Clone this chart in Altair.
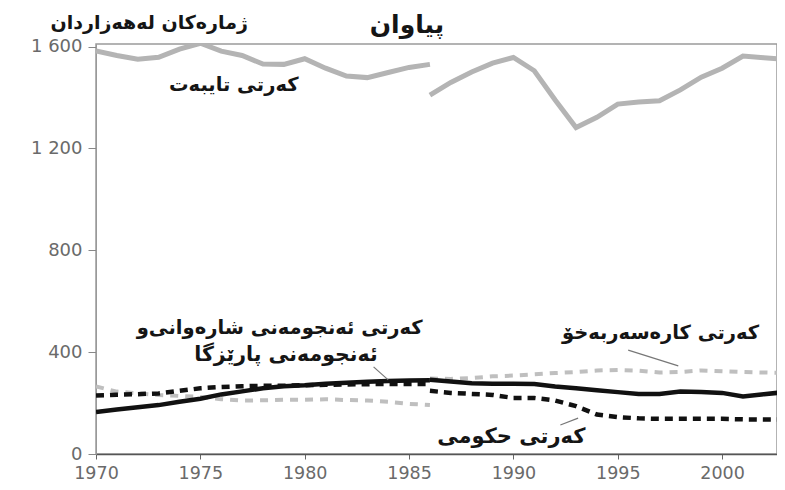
import altair as alt
import pandas as pd

# ---------------- data ----------------
years_a = list(range(1970, 1987))   # before the 1986 break
years_b = list(range(1986, 2004))   # after the 1986 break

private_a = [1583, 1565, 1550, 1558, 1590, 1613, 1582, 1565, 1531, 1530, 1552,
             1515, 1484, 1478, 1498, 1518, 1530]
private_b = [1409, 1459, 1500, 1535, 1557, 1505, 1390, 1282, 1322, 1374, 1382,
             1387, 1430, 1480, 1515, 1563, 1556, 1550]

local_a = [165, 175, 184, 192, 205, 217, 234, 246, 258, 266, 270, 276, 280, 284,
           287, 289, 290]
local_b = [292, 285, 278, 276, 276, 275, 265, 258, 250, 243, 236, 236, 245, 243,
           240, 226, 235, 243]

central_a = [230, 233, 235, 238, 248, 258, 263, 266, 268, 268, 270, 272, 273, 274,
             275, 275, 275]
central_b = [248, 240, 236, 232, 220, 220, 210, 188, 155, 145, 140, 138, 138, 138,
             138, 136, 135, 135]

self_a = [265, 245, 238, 232, 228, 224, 215, 210, 211, 213, 213, 215, 212, 210,
          205, 197, 192]
self_b = [296, 295, 298, 305, 308, 313, 318, 322, 328, 330, 327, 320, 322, 328,
          325, 322, 320, 318]

series_names = ["private", "local", "central", "self"]
series_a = [private_a, local_a, central_a, self_a]
series_b = [private_b, local_b, central_b, self_b]

x_ticks = [1970, 1975, 1980, 1985, 1990, 1995, 2000]
y_ticks = [0, 400, 800, 1200, 1600]

title_text = "پیاوان"
y_title_text = "ژمارەکان لەهەزاردان"
label_texts = ["کەرتی تایبەت",
               "کەرتی ئەنجومەنی شارەوانی\u200cو",
               "ئەنجومەنی پارێزگا",
               "کەرتی کارەسەربەخۆ",
               "کەرتی حکومی"]
label_years = [1976.6, 1978.8, 1979.1, 1997.05, 1989.9]
label_values = [1449, 495, 389, 475, 67]
label_sizes = [19.5, 19.5, 20.5, 19.5, 21]

head_texts = [title_text, y_title_text]
head_years = [1984.9, 1972.55]
head_values = [1684, 1692]
head_sizes = [25, 19]

lead_x = [1983.3, 1995.5, 1992.25]
lead_y = [342, 408, 114]
lead_x2 = [1984.0, 1997.9, 1993.1]
lead_y2 = [291, 346, 141]

# ---------------- frames ----------------
rows = []
for name, a, b in zip(series_names, series_a, series_b):
    for yr, v in zip(years_a, a):
        rows.append({"series": name, "seg": "a", "year": yr, "value": v})
    for yr, v in zip(years_b, b):
        rows.append({"series": name, "seg": "b", "year": yr, "value": v})
df = pd.DataFrame(rows)

df_lab = pd.DataFrame({"year": label_years, "value": label_values,
                       "label": label_texts, "size": label_sizes})
df_head = pd.DataFrame({"year": head_years, "value": head_values,
                        "label": head_texts, "size": head_sizes})
df_lead = pd.DataFrame({"x": lead_x, "y": lead_y, "x2": lead_x2, "y2": lead_y2})

xscale = alt.Scale(domain=[1970, 2002.63], nice=False, zero=False)
yscale = alt.Scale(domain=[0, 1610], nice=False)

label_style = dict(labelFont="DejaVu Sans", labelColor="#6a6a6a")

X = alt.X("year:Q", scale=xscale,
          axis=alt.Axis(values=x_ticks, format="d", title=None, grid=False,
                        tickSize=5, labelPadding=5, labelFlush=False,
                        labelFontSize=17.5, domainColor="#555", domainWidth=1.5,
                        tickColor="#666", **label_style))
Y = alt.Y("value:Q", scale=yscale,
          axis=alt.Axis(values=y_ticks, title=None, grid=False, tickSize=8,
                        labelPadding=6, labelFlush=False, labelFontSize=18,
                        domainColor="#999", tickColor="#888",
                        labelExpr="replace(format(datum.value, ','), ',', ' ')",
                        **label_style))

styles = {
    "private": dict(color="#b4b4b4", strokeWidth=5),
    "local": dict(color="#111111", strokeWidth=4.5),
    "central": dict(color="#111111", strokeWidth=4.5, strokeDash=[8, 6]),
    "self": dict(color="#bfbfbf", strokeWidth=4, strokeDash=[8, 7]),
}

layers = []
for name in ["private", "self", "central", "local"]:
    layers.append(
        alt.Chart(df).transform_filter(alt.datum.series == name)
        .mark_line(clip=True, **styles[name])
        .encode(x=X, y=Y, detail="seg:N")
    )

leads = alt.Chart(df_lead).mark_rule(color="#777", strokeWidth=1.2).encode(
    x=alt.X("x:Q", scale=xscale), y=alt.Y("y:Q", scale=yscale),
    x2="x2:Q", y2="y2:Q")

labels = alt.Chart(df_lab).mark_text(
    font="DejaVu Sans", fontWeight="bold", color="#151515", baseline="middle",
    align="center").encode(
    x=alt.X("year:Q", scale=xscale), y=alt.Y("value:Q", scale=yscale),
    text="label:N", size=alt.Size("size:Q", scale=None, legend=None))

heads = alt.Chart(df_head).mark_text(
    font="DejaVu Sans", fontWeight="bold", color="#151515", baseline="middle",
    align="center").encode(
    x=alt.X("year:Q", scale=xscale), y=alt.Y("value:Q", scale=yscale),
    text="label:N", size=alt.Size("size:Q", scale=None, legend=None))

chart = alt.layer(*layers, leads, labels, heads).properties(
    width=681, height=410,
    background="white",
    autosize=alt.AutoSizeParams(type="none"),
    padding={"left": 88, "top": 36, "right": 0, "bottom": 28},
).configure_view(stroke="#9a9a9a", strokeWidth=1.5)

chart.save("out.html", embed_options={"renderer": "svg", "actions": False})
